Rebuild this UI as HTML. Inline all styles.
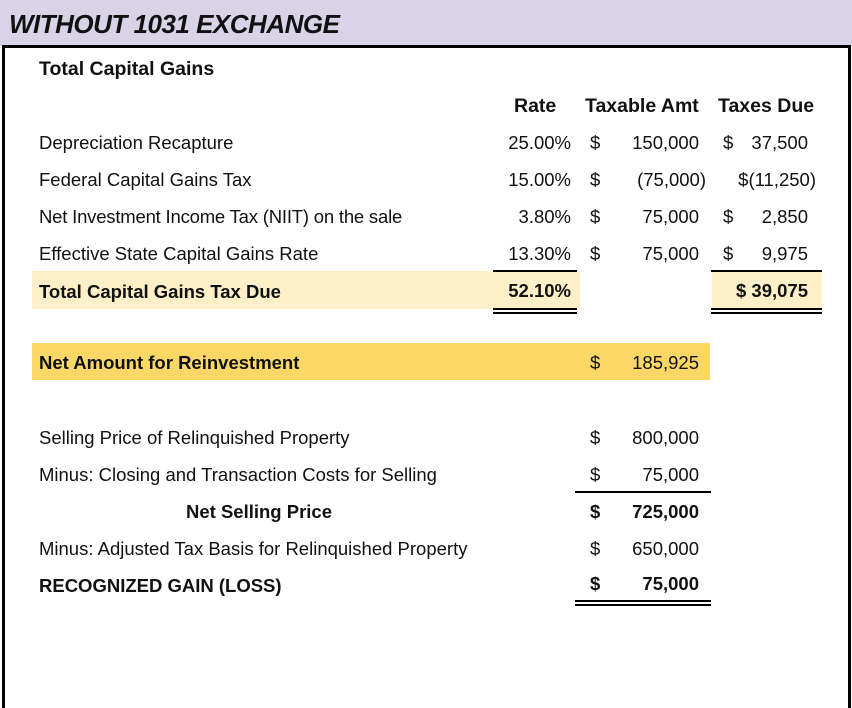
<!DOCTYPE html>
<html style="width:852px;height:708px;overflow:hidden"><head><meta charset="utf-8"><style>
body{margin:0;width:852px;height:708px;background:#fff;position:relative;overflow:hidden;font-family:"Liberation Sans",sans-serif;font-size:18.5px;color:#111}
.a{position:absolute;white-space:nowrap;line-height:22px}
.r{text-align:right}
.b{font-weight:bold}
.hl{position:absolute;background:#000}
</style></head><body>
<div style="position:absolute;left:0;top:0;width:852px;height:46px;background:#d9d3e8"></div>
<div class="a b" style="left:9px;top:13px;font-size:26px;font-style:italic;letter-spacing:-0.5px">WITHOUT 1031 EXCHANGE</div>
<div style="position:absolute;left:2px;top:45px;width:849px;height:670px;border:3px solid #000;box-sizing:border-box"></div>
<div style="position:absolute;left:32px;top:271px;width:548px;height:38px;background:#fdf0c8"></div>
<div style="position:absolute;left:712px;top:271px;width:110px;height:38px;background:#fdf0c8"></div>
<div style="position:absolute;left:32px;top:343px;width:678px;height:37px;background:#fbd765"></div>

<div class="a b" style="left:39px;top:58px;font-size:19.5px">Total Capital Gains</div>
<div class="a b" style="left:514px;top:95px;font-size:19.5px">Rate</div>
<div class="a b" style="left:585px;top:95px;font-size:19.5px">Taxable Amt</div>
<div class="a b" style="left:718px;top:95px;font-size:19.5px">Taxes Due</div>

<div class="a" style="left:39px;top:132px">Depreciation Recapture</div>
<div class="a" style="left:39px;top:169px">Federal Capital Gains Tax</div>
<div class="a" style="left:39px;top:206px;letter-spacing:-0.2px">Net Investment Income Tax (NIIT) on the sale</div>
<div class="a" style="left:39px;top:243px">Effective State Capital Gains Rate</div>
<div class="a b" style="left:39px;top:281px">Total Capital Gains Tax Due</div>

<div class="a r" style="right:281px;top:132px">25.00%</div>
<div class="a r" style="right:281px;top:169px">15.00%</div>
<div class="a r" style="right:281px;top:206px">3.80%</div>
<div class="a r" style="right:281px;top:243px">13.30%</div>
<div class="a r b" style="right:281px;top:280px">52.10%</div>

<div class="a" style="left:590px;top:132px">$</div>
<div class="a" style="left:590px;top:169px">$</div>
<div class="a" style="left:590px;top:206px">$</div>
<div class="a" style="left:590px;top:243px">$</div>
<div class="a r" style="right:153px;top:132px">150,000</div>
<div class="a r" style="right:146px;top:169px">(75,000)</div>
<div class="a r" style="right:153px;top:206px">75,000</div>
<div class="a r" style="right:153px;top:243px">75,000</div>

<div class="a" style="left:723px;top:132px">$</div>
<div class="a r" style="right:36px;top:169px">$(11,250)</div>
<div class="a" style="left:723px;top:206px">$</div>
<div class="a" style="left:723px;top:243px">$</div>
<div class="a r" style="right:44px;top:132px">37,500</div>
<div class="a r" style="right:44px;top:206px">2,850</div>
<div class="a r" style="right:44px;top:243px">9,975</div>
<div class="a b r" style="right:44px;top:280px">$ 39,075</div>

<div class="hl" style="left:493px;top:270px;width:84px;height:2px"></div>
<div class="hl" style="left:493px;top:308px;width:84px;height:2px"></div>
<div class="hl" style="left:493px;top:312px;width:84px;height:2px"></div>
<div class="hl" style="left:711px;top:270px;width:111px;height:2px"></div>
<div class="hl" style="left:711px;top:308px;width:111px;height:2px"></div>
<div class="hl" style="left:711px;top:312px;width:111px;height:2px"></div>

<div class="a b" style="left:39px;top:352px">Net Amount for Reinvestment</div>
<div class="a" style="left:590px;top:352px">$</div>
<div class="a r" style="right:153px;top:352px">185,925</div>

<div class="a" style="left:39px;top:427px">Selling Price of Relinquished Property</div>
<div class="a" style="left:39px;top:464px">Minus: Closing and Transaction Costs for Selling</div>
<div class="a b" style="left:186px;top:501px">Net Selling Price</div>
<div class="a" style="left:39px;top:538px">Minus: Adjusted Tax Basis for Relinquished Property</div>
<div class="a b" style="left:39px;top:575px">RECOGNIZED GAIN (LOSS)</div>

<div class="a" style="left:590px;top:427px">$</div>
<div class="a" style="left:590px;top:464px">$</div>
<div class="a b" style="left:590px;top:501px">$</div>
<div class="a" style="left:590px;top:538px">$</div>
<div class="a b" style="left:590px;top:573px">$</div>
<div class="a r" style="right:153px;top:427px">800,000</div>
<div class="a r" style="right:153px;top:464px">75,000</div>
<div class="a r b" style="right:153px;top:501px">725,000</div>
<div class="a r" style="right:153px;top:538px">650,000</div>
<div class="a r b" style="right:153px;top:573px">75,000</div>

<div class="hl" style="left:575px;top:491px;width:136px;height:2px"></div>
<div class="hl" style="left:575px;top:600px;width:136px;height:2px"></div>
<div class="hl" style="left:575px;top:604px;width:136px;height:2px"></div>
</body></html>
